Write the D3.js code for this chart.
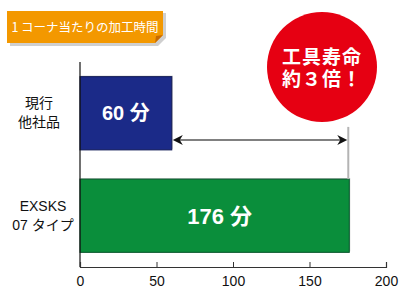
<!DOCTYPE html>
<html>
<head>
<meta charset="utf-8">
<script src="https://cdn.jsdelivr.net/npm/d3@7/dist/d3.min.js"></script>
<style>
  html, body { margin: 0; padding: 0; background: #fff; }
  svg { display: block; }
  text { font-family: "Liberation Sans", Arial, "Noto Sans CJK JP", sans-serif; }
</style>
</head>
<body>
<svg id="chart" width="400" height="305"></svg>
<script>
// Machining time per corner (minutes)
const categories = ["current", "exsks"];
const categoryLines = [["現行", "他社品"], ["EXSKS", "07 タイプ"]];
const values = [60, 176];
const valueLabels = ["60 分", "176 分"];
const barColors = ["#1b2a88", "#0a8e3b"];
const barEdges = ["#111a55", "#06552a"];
const tickValues = [0, 50, 100, 150, 200];
const titleText = "1 コーナ当たりの加工時間";
const badgeLines = ["工具寿命", "約３倍！"];

const svg = d3.select("#chart");
const jp = '"Noto Sans CJK JP", "Liberation Sans", sans-serif';

const x = d3.scaleLinear().domain([0, 200]).range([80, 386]);
const y = d3.scaleBand().domain(categories).range([62, 267])
  .paddingInner(0.285).paddingOuter(0.143);

// Title tab with folded corner
const tab = svg.append("g");
tab.append("path").attr("d", "M10,13 H166 V38 L158,46 H10 Z").attr("fill", "#cfcfcf");
tab.append("path").attr("d", "M7,11 H163 V35 L155,43 H7 Z").attr("fill", "#f39800");
tab.append("path").attr("d", "M163,35 L155,43 L156,36 Z").attr("fill", "#c76a00");
tab.append("text").attr("x", 85).attr("y", 32).attr("text-anchor", "middle")
  .attr("fill", "#fff").style("font-family", jp).style("font-size", "12.5px")
  .text(titleText);

// Bars
const bars = svg.append("g");
categories.forEach((c, i) => {
  bars.append("rect")
    .attr("x", x(0) + 1).attr("y", y(c) - 1)
    .attr("width", x(values[i]) - x(0)).attr("height", y.bandwidth())
    .attr("fill", "#cccccc");
  bars.append("rect")
    .attr("x", x(0)).attr("y", y(c))
    .attr("width", x(values[i]) - x(0)).attr("height", y.bandwidth())
    .attr("fill", barColors[i]).attr("stroke", barEdges[i]).attr("stroke-width", 1);
});

// Value labels inside bars
const labelSizes = [20, 22];
const labelShift = [0, 5];
categories.forEach((c, i) => {
  svg.append("text")
    .attr("x", (x(0) + x(values[i])) / 2 + labelShift[i])
    .attr("y", y(c) + y.bandwidth() / 2)
    .attr("dy", "0.36em")
    .attr("text-anchor", "middle")
    .attr("fill", "#fff")
    .style("font-weight", "bold")
    .style("font-size", labelSizes[i] + "px")
    .text(valueLabels[i]);
});

// Category labels
categories.forEach((c, i) => {
  const cy = y(c) + y.bandwidth() / 2;
  const t = svg.append("text").attr("text-anchor", "middle").attr("fill", "#111")
    .style("font-family", i === 0 ? jp : '"Liberation Sans", "Noto Sans CJK JP", sans-serif')
    .style("font-size", "14px");
  categoryLines[i].forEach((line, k) => {
    t.append("tspan").attr("x", i === 0 ? 39 : 43)
      .attr("y", cy + (k === 0 ? -5 : 14)).text(line);
  });
});

// Axes
svg.append("line").attr("x1", x(0)).attr("x2", x(0)).attr("y1", 62).attr("y2", 267)
  .attr("stroke", "#111").attr("stroke-width", 1.2);
const xAxis = svg.append("g").attr("transform", "translate(0,267)")
  .call(d3.axisBottom(x).tickValues(tickValues).tickSize(-5).tickPadding(9));
xAxis.select(".domain").attr("stroke", "#333").attr("stroke-width", 1.2);
xAxis.selectAll(".tick line").attr("stroke", "#333");
xAxis.selectAll("text").attr("fill", "#111")
  .style("font-size", "14px").style("font-family", '"Liberation Sans", Arial, sans-serif');

// Gap between the two bars: guide line and double arrow
const arrowY = y(categories[0]) + y.bandwidth() - 10;
svg.append("line")
  .attr("x1", x(values[1]) - 1).attr("x2", x(values[1]) - 1)
  .attr("y1", arrowY - 13).attr("y2", y(categories[1]))
  .attr("stroke", "#b4b4b4").attr("stroke-width", 2);
svg.append("line")
  .attr("x1", x(values[0]) + 6).attr("x2", x(values[1]) - 8)
  .attr("y1", arrowY).attr("y2", arrowY)
  .attr("stroke", "#808080").attr("stroke-width", 2);
const head = (tipX, dir) => {
  svg.append("path")
    .attr("d", `M${tipX},${arrowY} L${tipX + dir * 10},${arrowY - 5} L${tipX + dir * 7},${arrowY} L${tipX + dir * 10},${arrowY + 5} Z`)
    .attr("fill", "#111");
};
head(x(values[0]) + 1, 1);
head(x(values[1]) - 2, -1);

// Red badge
const badge = svg.append("g").attr("transform", "translate(322,67)");
badge.append("circle").attr("r", 55).attr("fill", "#e60012");
const badgeText = badge.append("text").attr("text-anchor", "middle").attr("fill", "#fff")
  .style("font-family", '"Liberation Sans", "Noto Sans CJK JP", sans-serif')
  .style("font-weight", "bold").style("font-size", "19px")
  .style("letter-spacing", "1px");
badgeText.append("tspan").attr("x", 0).attr("y", -3).text(badgeLines[0]);
badgeText.append("tspan").attr("x", 0).attr("y", 19).text(badgeLines[1]);
</script>
</body>
</html>
